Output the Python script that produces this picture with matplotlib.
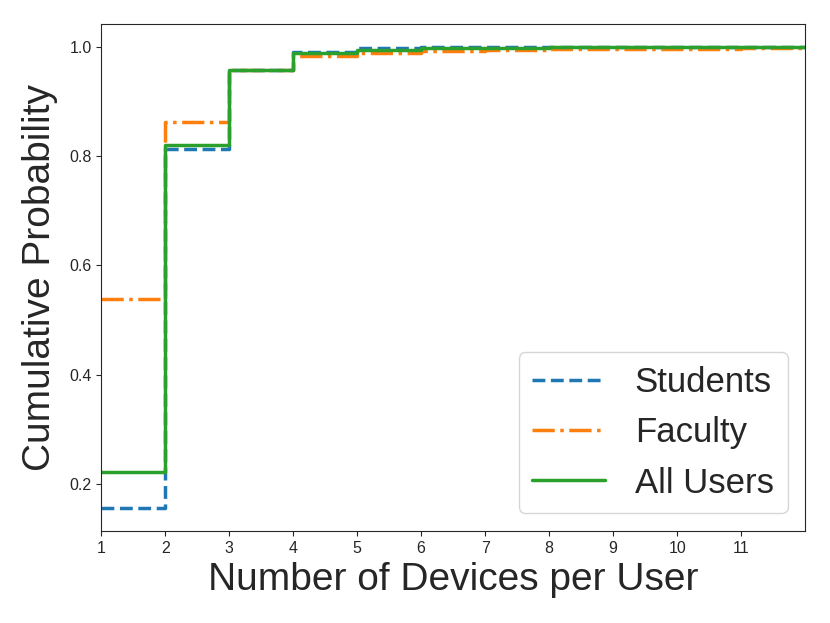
import matplotlib
matplotlib.use("Agg")
import matplotlib.pyplot as plt
import seaborn as sns

# CDF of devices per user
devices = [1, 2, 3, 4, 5, 6, 7, 8, 9, 10, 11, 12, 13]
students = [0.155, 0.812, 0.957, 0.990, 0.997, 0.999, 1.0, 1.0, 1.0, 1.0, 1.0, 1.0, 1.0]
faculty = [0.538, 0.862, 0.958, 0.983, 0.988, 0.992, 0.994, 0.995, 0.996, 0.996, 0.997, 0.997, 0.997]
all_users = [0.222, 0.820, 0.958, 0.988, 0.994, 0.997, 0.998, 0.999, 0.999, 1.0, 1.0, 1.0, 1.0]

sns.set_style("ticks")
plt.rcParams["font.family"] = ["Liberation Sans", "DejaVu Sans"]

fig = plt.figure(figsize=(8.3, 6.23), dpi=100)
ax = fig.add_axes([0.122, 0.148, 0.848, 0.814])

ax.step(devices, students, where="post", color="#1f77b4", linestyle="--", linewidth=2.5, label="Students")
ax.step(devices, faculty, where="post", color="#ff7f0e", linestyle="-.", linewidth=2.5, label="Faculty")
ax.step(devices, all_users, where="post", color="#2ca02c", linestyle="-", linewidth=2.5, label="All Users")

ax.set_xlim(1, 12)
ax.set_ylim(0.114, 1.042)
ax.set_xticks(range(1, 12))
ax.set_yticks([0.2, 0.4, 0.6, 0.8, 1.0])
ax.tick_params(labelsize=11.5)
ax.set_xlabel("Number of Devices per User", fontsize=28, labelpad=5)
ax.set_ylabel("Cumulative Probability", fontsize=28, labelpad=8)

ax.legend(loc="lower right", fontsize=25, handlelength=2.1, handletextpad=0.85,
          frameon=True, fancybox=True)

fig.savefig("out.png", dpi=100)
